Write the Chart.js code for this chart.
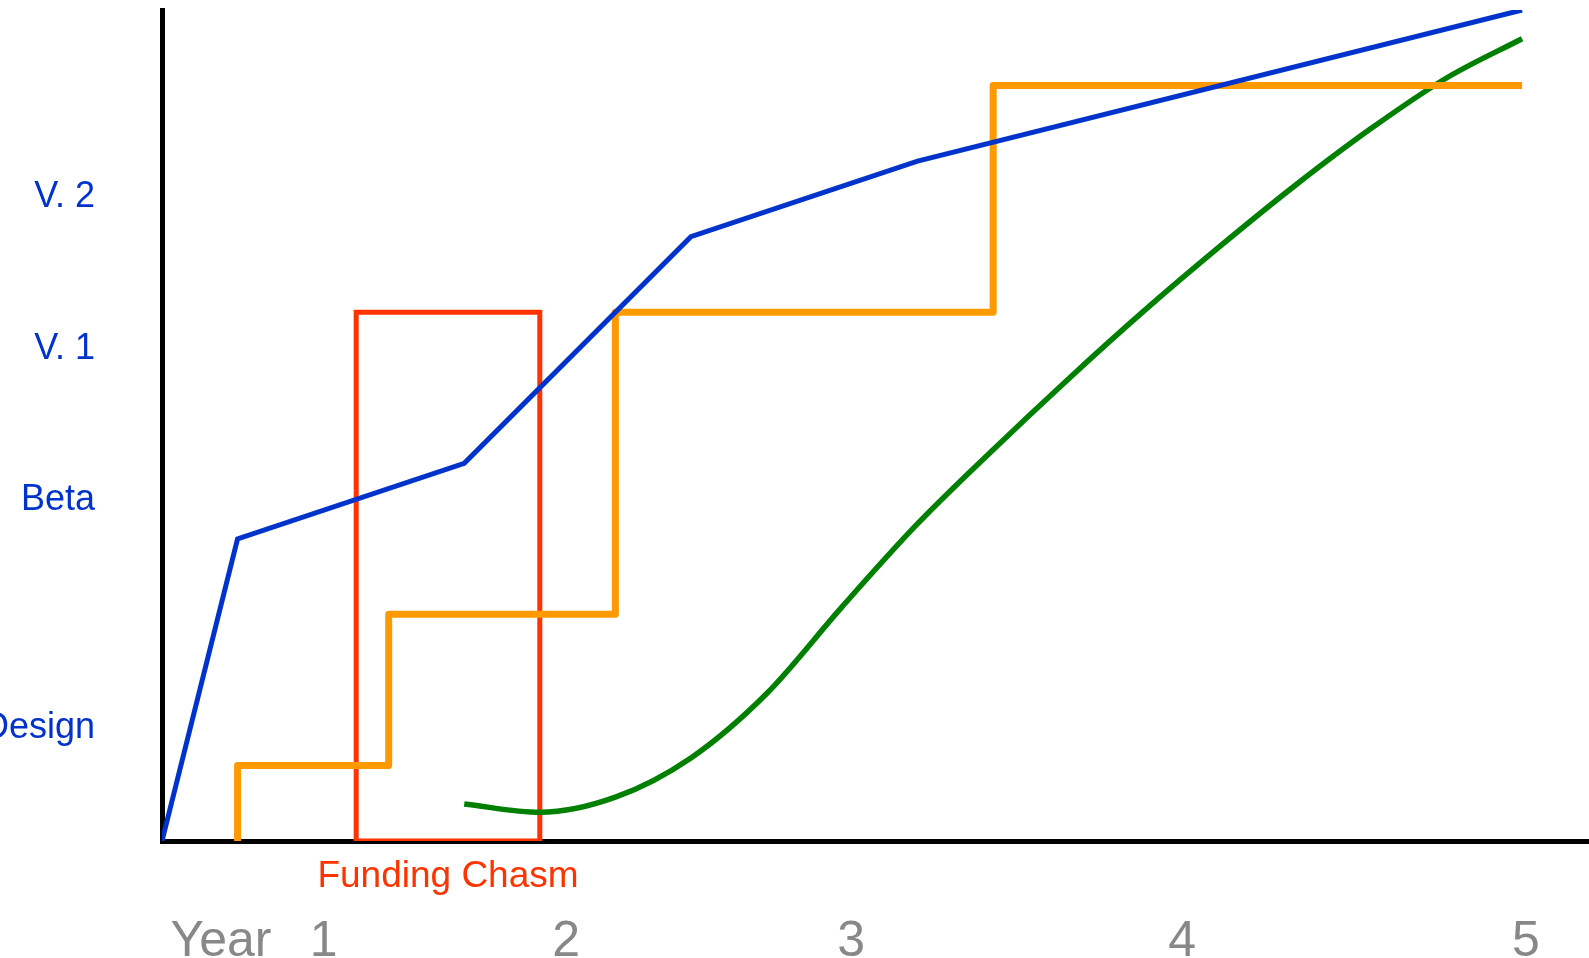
<!DOCTYPE html>
<html>
<head>
<meta charset="utf-8">
<script src="https://cdn.jsdelivr.net/npm/chart.js@4/dist/chart.umd.min.js"></script>
<style>
  html, body { margin: 0; padding: 0; background: #fff; overflow: hidden; }
  #wrap { position: relative; width: 1589px; height: 985px; }
</style>
</head>
<body>
<div id="wrap"><canvas id="roadmap"></canvas></div>
<script>
// product milestones (blue)
const productX = [0, 1, 4, 7, 10, 18];
const productY = [0, 4, 5, 8, 9, 11];

// funding steps (orange)
const fundingX = [1, 1, 3, 3, 6, 6, 11, 11, 18];
const fundingY = [0, 1, 1, 3, 3, 7, 7, 10, 10];

// revenue curve (green)
const revenueX = [4, 5, 6, 7, 8, 9, 10, 11, 12, 13, 14, 15, 16, 17, 18];
const revenueY = [0.49, 0.38, 0.58, 1.1, 1.95, 3.1, 4.2, 5.18, 6.12, 7.02, 7.87, 8.68, 9.43, 10.1, 10.62];

// funding chasm box (red)
const chasmX = [2.57, 2.57, 5, 5, 2.57];
const chasmY = [0, 7, 7, 0, 0];

// axis labels
const stageTicks = [1.5, 4.51, 6.51, 8.53];
const stageLabels = ["Design", "Beta", "V. 1", "V. 2"];
const yearTicks = [0.78, 2.14, 5.35, 9.12, 13.5, 18.05];
const yearLabels = ["Year", "1", "2", "3", "4", "5"];
const chasmTicks = [3.785];
const chasmLabels = ["Funding Chasm"];

const X_MAX = 18.886;
const Y_MAX = 11;

const toPoints = (xs, ys) => xs.map((x, i) => ({ x, y: ys[i] }));

const BLUE = "#0033cc",
  ORANGE = "#ff9900",
  GREEN = "#008000",
  RED = "#ff3300",
  GRAY = "#888888";
const FONT = "'Liberation Sans', Arial, sans-serif";

const fixedTicks = (values) => (scale) => {
  scale.ticks = values.map((v) => ({ value: v }));
};

// pin an axis to a fixed size and drop the label padding Chart.js adds
const fixSize = (prop, size) => (scale) => {
  scale[prop] = size;
  scale.paddingTop = 0;
  scale.paddingBottom = 0;
  scale.paddingLeft = 0;
  scale.paddingRight = 0;
};

new Chart(document.getElementById("roadmap").getContext("2d"), {
  type: "line",
  data: {
    datasets: [
      {
        data: toPoints(productX, productY),
        borderColor: BLUE,
        borderWidth: 5,
        borderJoinStyle: "miter",
        pointRadius: 0,
        tension: 0,
      },
      {
        data: toPoints(fundingX, fundingY),
        borderColor: ORANGE,
        borderWidth: 7,
        borderJoinStyle: "round",
        pointRadius: 0,
        tension: 0,
      },
      {
        data: toPoints(revenueX, revenueY),
        borderColor: GREEN,
        borderWidth: 5.5,
        pointRadius: 0,
        cubicInterpolationMode: "monotone",
      },
      {
        data: toPoints(chasmX, chasmY),
        borderColor: RED,
        borderWidth: 5,
        borderJoinStyle: "miter",
        pointRadius: 0,
        tension: 0,
      },
    ],
  },
  options: {
    responsive: true,
    maintainAspectRatio: false,
    animation: false,
    layout: { padding: { top: 10, left: 0, right: 0, bottom: 0 } },
    plugins: { legend: { display: false }, tooltip: { enabled: false } },
    scales: {
      x2: {
        type: "linear",
        position: "bottom",
        weight: 1,
        min: 0,
        max: X_MAX,
        afterBuildTicks: fixedTicks(chasmTicks),
        afterFit: fixSize("height", 55),
        grid: { display: false, drawTicks: false },
        border: { display: true, color: "#000", width: 5 },
        ticks: {
          autoSkip: false,
          maxRotation: 0,
          padding: 14,
          color: RED,
          font: { family: FONT, size: 37 },
          callback: (v, i) => chasmLabels[i],
        },
      },
      x: {
        type: "linear",
        position: "bottom",
        weight: 2,
        min: 0,
        max: X_MAX,
        afterBuildTicks: fixedTicks(yearTicks),
        afterFit: fixSize("height", 89),
        grid: { display: false, drawTicks: false },
        border: { display: false },
        ticks: {
          autoSkip: false,
          maxRotation: 0,
          padding: 16,
          color: GRAY,
          font: { family: FONT, size: 50 },
          callback: (v, i) => yearLabels[i],
        },
      },
      y: {
        type: "linear",
        position: "left",
        min: 0,
        max: Y_MAX,
        afterBuildTicks: fixedTicks(stageTicks),
        afterFit: fixSize("width", 162),
        grid: { display: false, drawTicks: false },
        border: { display: true, color: "#000", width: 5 },
        ticks: {
          autoSkip: false,
          padding: 67,
          color: BLUE,
          font: { family: FONT, size: 36 },
          callback: (v, i) => stageLabels[i],
        },
      },
    },
  },
});
</script>
</body>
</html>
